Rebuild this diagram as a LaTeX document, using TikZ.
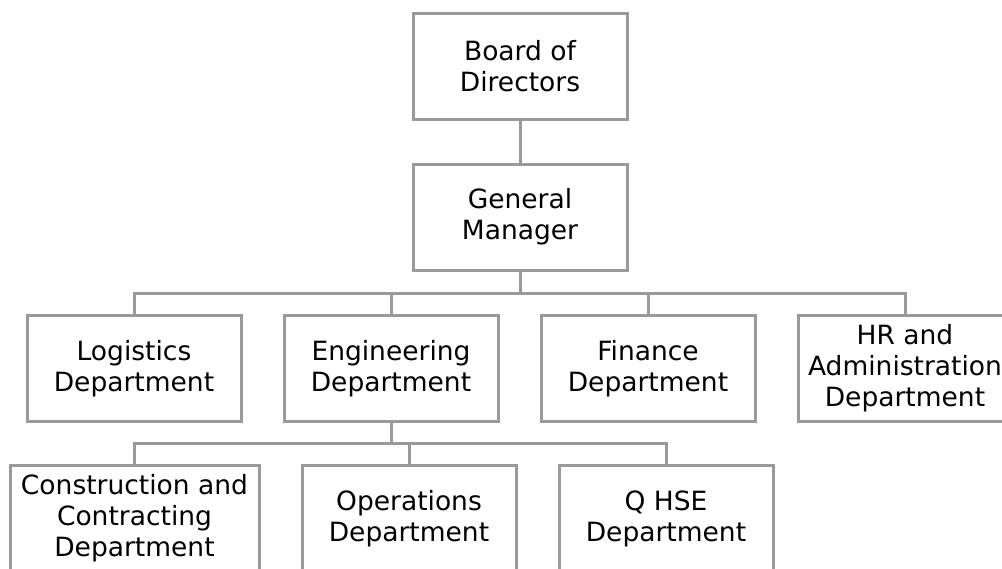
\documentclass[tikz,border=0pt]{standalone}
\usepackage{fontspec}
\setmainfont{DejaVu Sans}
\definecolor{linegray}{RGB}{154,154,154}
\begin{document}
\begin{tikzpicture}[x=1pt,y=-1pt,
  box/.style={draw=linegray,line width=3pt,fill=white,minimum width=214pt,minimum height=106pt,
    align=center,inner sep=0pt,font=\fontsize{26.5}{31}\selectfont},
  link/.style={draw=linegray,line width=3pt}]
\useasboundingbox (0,0) rectangle (1002,568);
\clip (0,0) rectangle (1002,568);
\fill[white] (0,0) rectangle (1002,568);
\node[box] (bod) at (520,66) {Board of\\Directors};
\node[box] (gm) at (520,217) {General\\Manager};
\node[box] (log) at (134,368.5) {Logistics\\Department};
\node[box] (eng) at (391,368.5) {Engineering\\Department};
\node[box] (fin) at (648,368.5) {Finance\\Department};
\node[box] (hr) at (905,368.5) {HR and\\Administration\\Department};
\node[box,minimum width=249pt] (con) at (134.5,518.5) {Construction and\\Contracting\\Department};
\node[box] (ops) at (409,518.5) {Operations\\Department};
\node[box] (qhse) at (666,518.5) {Q HSE\\Department};
\coordinate (b1) at (520,293);
\coordinate (b2) at (391,443);
\draw[link] (bod) -- (gm);
\draw[link] (gm) -- (b1);
\draw[link] (log.north) -- (log.north |- b1) -- (hr.north |- b1) -- (hr.north);
\draw[link] (eng.north) -- (eng.north |- b1);
\draw[link] (fin.north) -- (fin.north |- b1);
\draw[link] (eng.south) -- (b2);
\draw[link] (con.north) -- (con.north |- b2) -- (qhse.north |- b2) -- (qhse.north);
\draw[link] (ops.north) -- (ops.north |- b2);
\end{tikzpicture}
\end{document}
